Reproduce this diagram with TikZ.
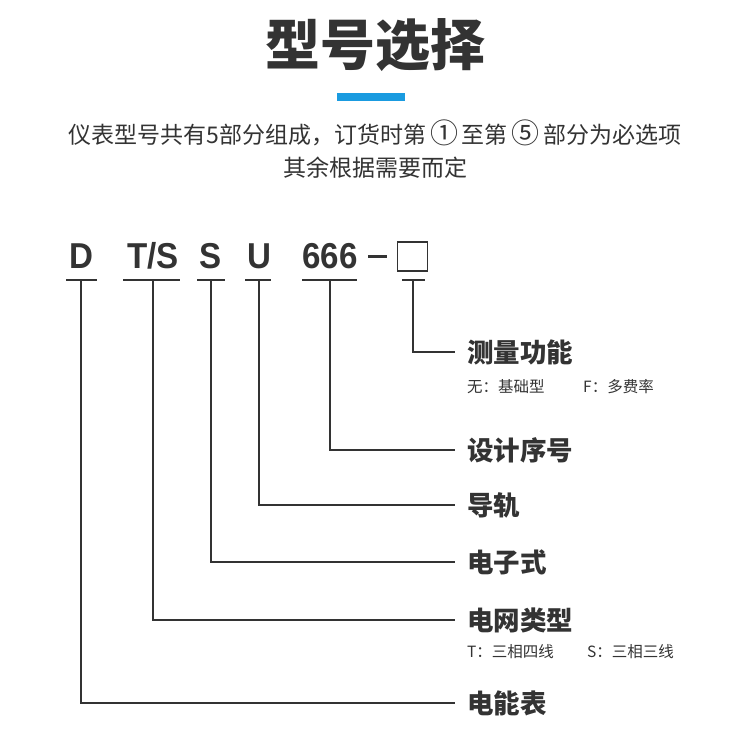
\documentclass[tikz,border=0pt]{standalone}
\usepackage{fontspec}
\setmainfont{Liberation Sans}
\newfontfamily\cjk{Noto Sans CJK SC}
\definecolor{tx}{HTML}{333333}
\definecolor{bl}{HTML}{1A9BE0}
\newcommand{\circnum}[1]{\,{\fontsize{28}{28}\selectfont #1}\,}
\begin{document}
\begin{tikzpicture}[x=1pt,y=-1pt,
  code/.style={font=\fontsize{36}{40}\selectfont\bfseries,text=tx,inner sep=0,xscale=0.92},
  lab/.style={font=\cjk\fontsize{26.5}{28}\selectfont\bfseries,text=tx,anchor=west,inner sep=0},
  sub/.style={font=\cjk\fontsize{15.5}{17}\selectfont,text=tx,anchor=west,inner sep=0},
  ln/.style={draw=tx,line width=1.2pt}]
\useasboundingbox (0,0) rectangle (750,744);
\node[font=\cjk\fontsize{55}{58}\selectfont\bfseries,text=tx] (title) at (375,45) {型号选择};
\fill[bl] (337,93) rectangle (405,101);
\node[font=\cjk\fontsize{23}{25}\selectfont,text=tx] (s1) at (375,133) {仪表型号共有5部分组成，订货时第\circnum{①}至第\circnum{⑤}部分为必选项};
\node[font=\cjk\fontsize{23}{25}\selectfont,text=tx] (s2) at (375,168) {其余根据需要而定};
\node[code] (D) at (81,256) {D};
\node[code] (TS) at (153,256) {T/S};
\node[code] (S) at (211,256) {S};
\node[code] (U) at (259,256) {U};
\node[code] (N) at (330,256) {666};
\draw[tx,line width=3pt] (368,256) -- (387,256);
\node[draw=tx,line width=1.5pt,minimum width=30,minimum height=29,inner sep=0] (B) at (412.5,256.5) {};
\foreach \a/\b in {66/97,123/180,197/225,245/271,302/357,402/425}
  \draw[ln] (\a,280) -- (\b,280);
\node[lab] (l1) at (467,352) {测量功能};
\node[sub] at (467,387) {无：基础型};
\node[sub] at (583,387) {F：多费率};
\node[lab] (l2) at (467,450) {设计序号};
\node[lab] (l3) at (467,505) {导轨};
\node[lab] (l4) at (467,562) {电子式};
\node[lab] (l5) at (467,620) {电网类型};
\node[sub] at (467,652) {T：三相四线};
\node[sub] at (587,652) {S：三相三线};
\node[lab] (l6) at (467,703) {电能表};
\coordinate (e) at (455,0);
\draw[ln] (413,280) |- (e |- l1.west);
\draw[ln] (330,280) |- (e |- l2.west);
\draw[ln] (259,280) |- (e |- l3.west);
\draw[ln] (211,280) |- (e |- l4.west);
\draw[ln] (153,280) |- (e |- l5.west);
\draw[ln] (81,280) |- (e |- l6.west);
\end{tikzpicture}
\end{document}
